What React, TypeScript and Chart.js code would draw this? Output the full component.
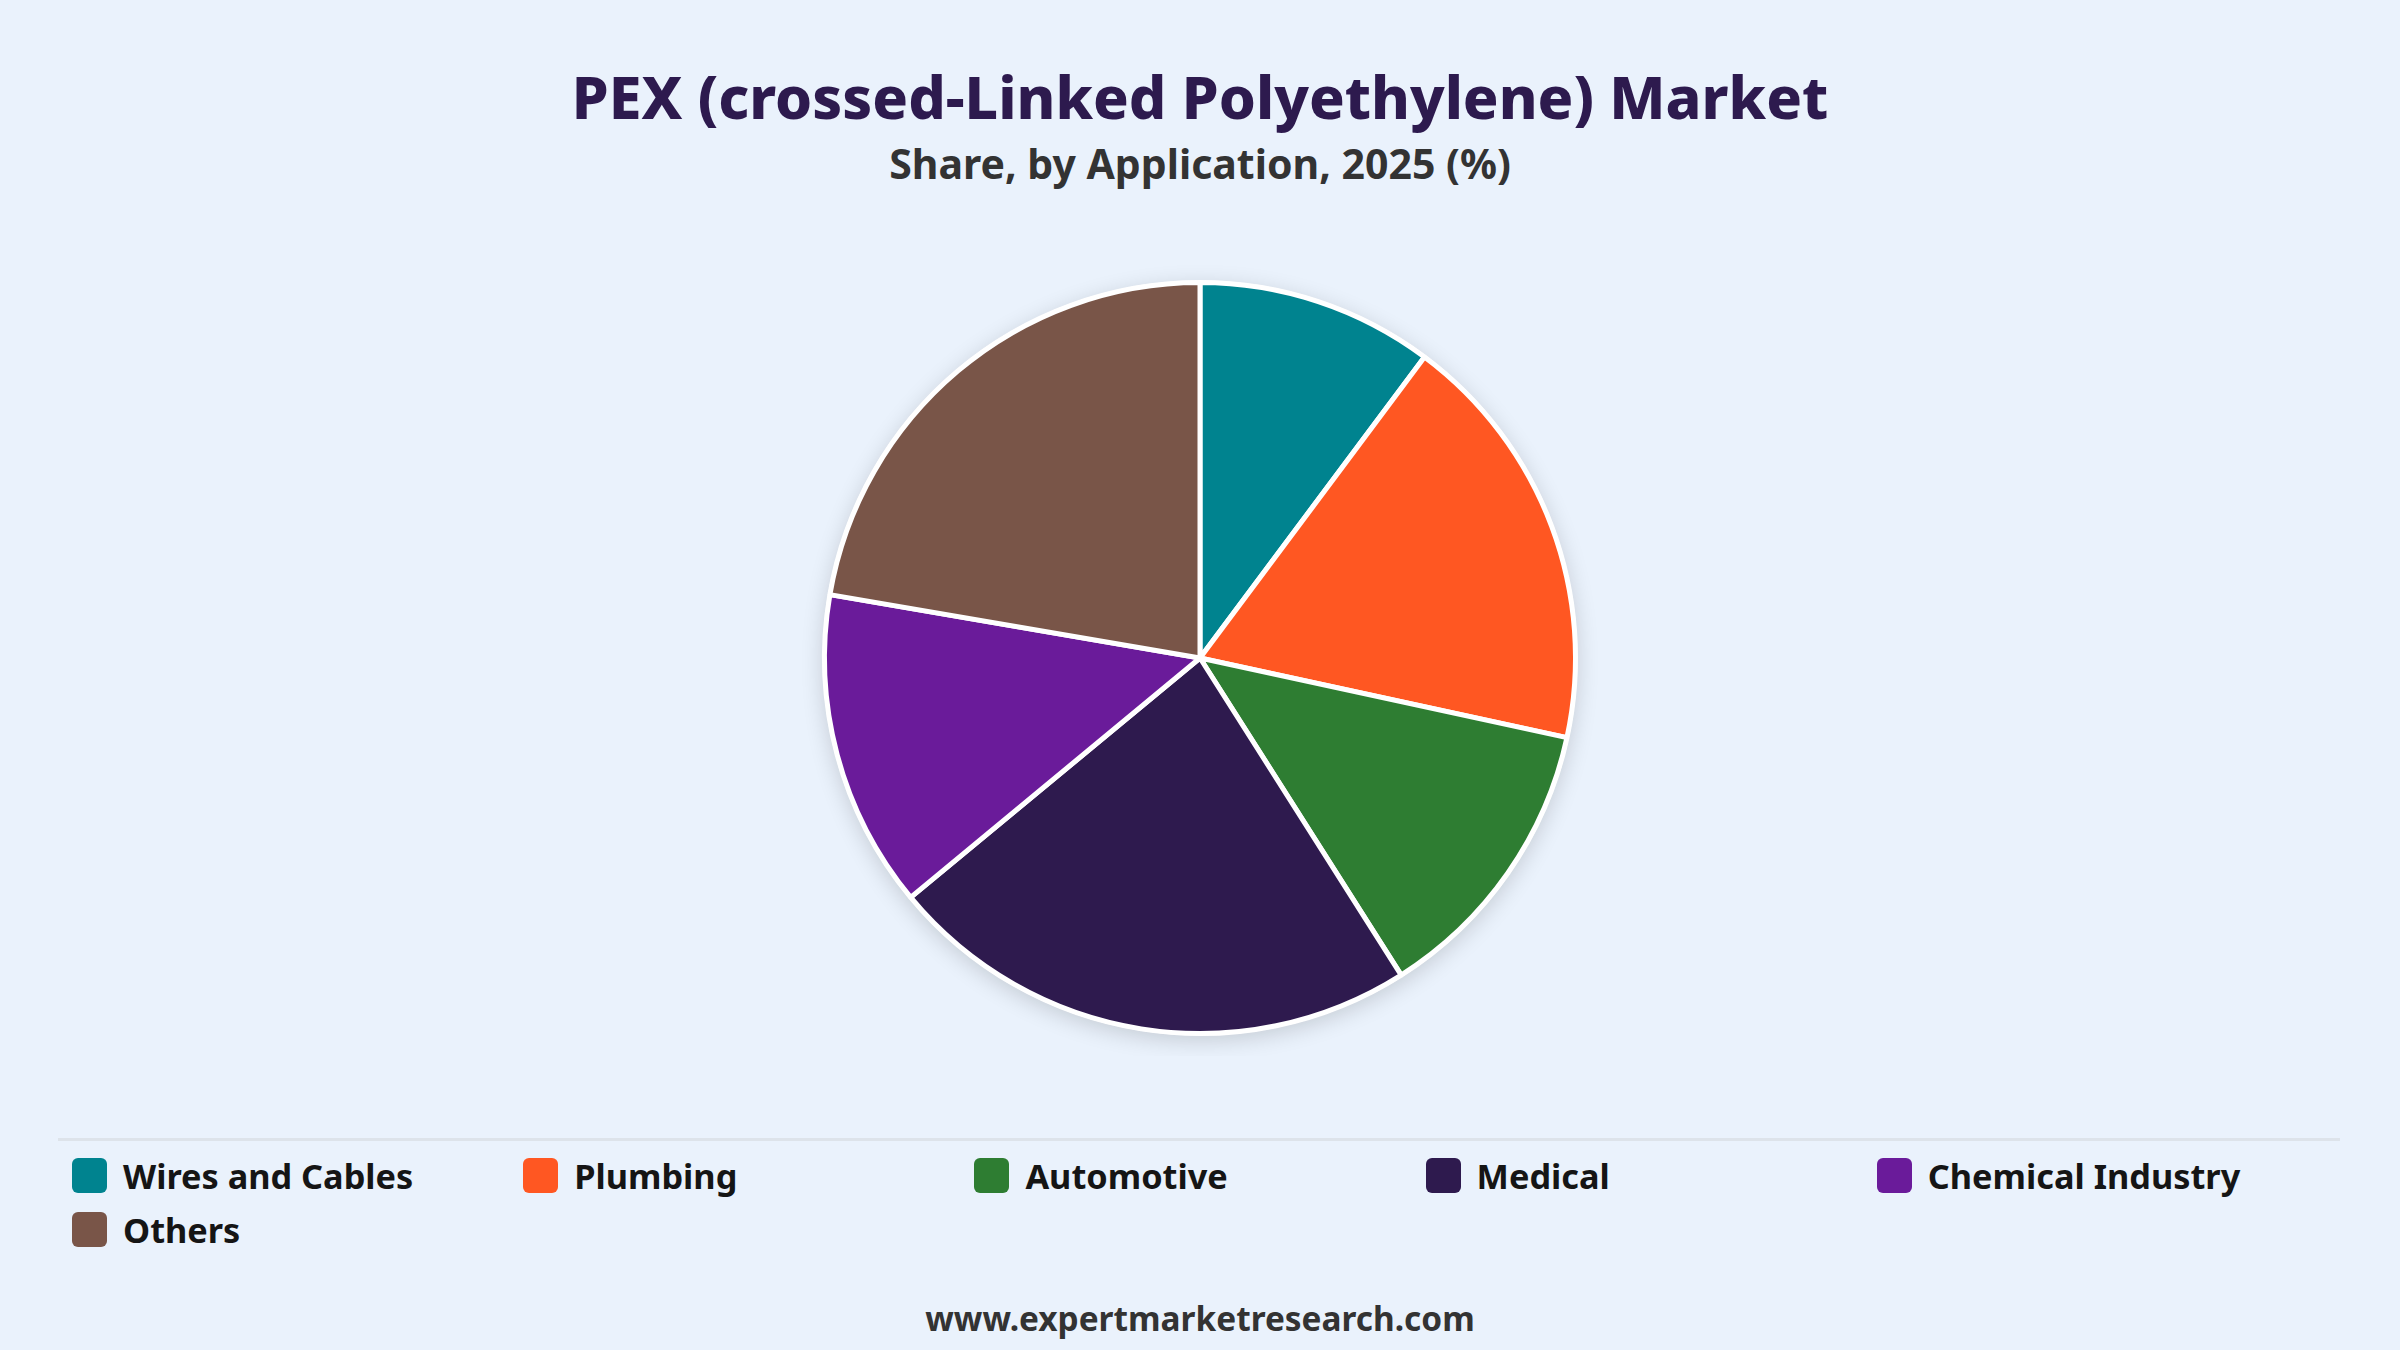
import { useEffect, useRef } from 'react';
import { Chart, registerables } from 'chart.js';
Chart.register(...registerables);

const applications = ['Wires and Cables', 'Plumbing', 'Automotive', 'Medical', 'Chemical Industry', 'Others'];
const shares = [10.2, 18.2, 12.6, 23.0, 13.7, 22.3];
const colors = ['#00838f', '#ff5722', '#2e7d32', '#2e1a4e', '#6a1b9a', '#795548'];

const FONT = '"Noto Sans", "Open Sans", sans-serif';

// soft shadow behind the whole pie
const pieShadow = {
  id: 'pieShadow',
  beforeDatasetsDraw(chart: any) {
    const arc = chart.getDatasetMeta(0).data[0];
    if (!arc) return;
    const { x, y, outerRadius } = arc.getProps(['x', 'y', 'outerRadius'], true);
    const ctx = chart.ctx;
    ctx.save();
    ctx.shadowColor = 'rgba(0,0,0,0.16)';
    ctx.shadowBlur = 22;
    ctx.shadowOffsetY = 5;
    ctx.beginPath();
    ctx.arc(x, y, outerRadius + 2, 0, Math.PI * 2);
    ctx.fillStyle = '#ffffff';
    ctx.fill();
    ctx.restore();
  },
};

export default function App() {
  const pieRef = useRef<HTMLCanvasElement>(null);

  useEffect(() => {
    document.body.style.margin = '0';
    const pie = new Chart(pieRef.current!, {
      type: 'pie',
      data: {
        labels: applications,
        datasets: [{
          data: shares,
          backgroundColor: colors,
          borderColor: '#ffffff',
          borderWidth: 5,
        }],
      },
      options: {
        responsive: true, maintainAspectRatio: false, animation: false,
        layout: { padding: 20 },
        plugins: { legend: { display: false }, tooltip: { enabled: false } },
      },
      plugins: [pieShadow],
    });
    return () => { pie.destroy(); };
  }, []);

  return (
    <div style={{ position: 'absolute', left: 0, top: 0, width: 2400, height: 1350, background: '#eaf2fc', fontFamily: FONT, overflow: 'hidden' }}>
      <div style={{ position: 'absolute', top: 58, width: '100%', textAlign: 'center', fontSize: 59, fontWeight: 800, color: '#2d1a4e', lineHeight: '76px' }}>
        PEX (crossed-Linked Polyethylene) Market
      </div>
      <div style={{ position: 'absolute', top: 138, width: '100%', textAlign: 'center', fontSize: 41, fontWeight: 700, color: '#333333', lineHeight: '50px' }}>
        Share, by Application, 2025 (%)
      </div>
      <div style={{ position: 'absolute', left: 0, top: 260, width: 2400, height: 796 }}>
        <canvas ref={pieRef} />
      </div>
      <div style={{ position: 'absolute', left: 58, top: 1138, width: 2282, height: 3, background: '#dde3ea' }} />
      <div style={{ position: 'absolute', left: 72, top: 1155, width: 2256, display: 'grid', gridTemplateColumns: 'repeat(5, 1fr)', rowGap: 14 }}>
        {applications.map((l, i) => (
          <div key={l} style={{ display: 'flex', alignItems: 'center', height: 40, fontSize: 34.3, fontWeight: 700, color: '#151515' }}>
            <span style={{ width: 35, height: 35, borderRadius: 6, background: colors[i], marginRight: 16, flex: 'none' }} />
            {l}
          </div>
        ))}
      </div>
      <div style={{ position: 'absolute', top: 1296, width: '100%', textAlign: 'center', fontSize: 33.4, fontWeight: 700, color: '#333333', lineHeight: '44px' }}>
        www.expertmarketresearch.com
      </div>
    </div>
  );
}
